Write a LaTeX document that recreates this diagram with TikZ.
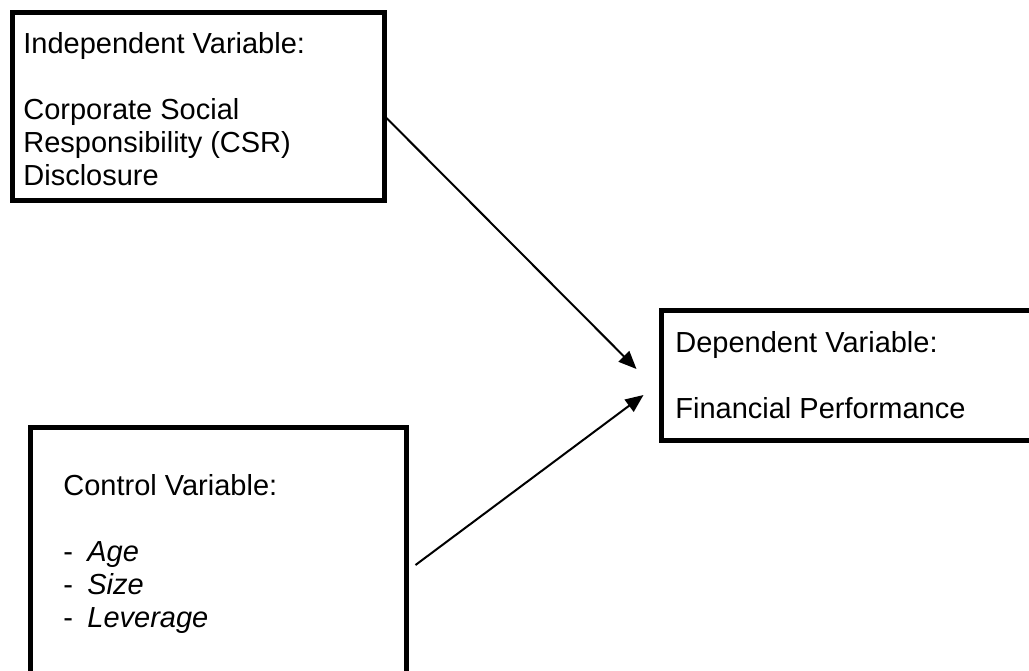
\documentclass[tikz,border=0pt]{standalone}
\usepackage{fontspec}
\setmainfont{Liberation Sans}
\usetikzlibrary{arrows.meta}

\begin{document}
\begin{tikzpicture}[x=0.5pt, y=-0.5pt,
        varbox/.style={draw, line width=2.5pt, inner sep=0pt},
        vartext/.style={anchor=base west, inner sep=0pt, align=left,
            font=\fontsize{14.5pt}{16.5pt}\selectfont},
        link/.style={line width=1pt, -{Triangle[length=9pt, width=7.5pt]}}]
    \clip (0,0) rectangle (1029,670);
    \fill[white] (0,0) rectangle (1029,670);
    % boxes
    \node[varbox, minimum width=186pt, minimum height=94pt] (indep) at (198,106) {};
    \node[varbox, minimum width=188pt, minimum height=146.5pt] (control) at (218,573.5) {};
    \node[varbox, minimum width=199.5pt, minimum height=65pt] (dep) at (860.5,375) {};
    % texts (anchored on the baseline of the last line)
    \node[vartext] (indeptext) at (23,185) {Independent Variable:\\[16.5pt]
        Corporate Social\\Responsibility (CSR)\\Disclosure};
    \node[vartext] (controltext) at (63,627) {Control Variable:\\[16.5pt]
        \makebox[12pt][l]{-}\textit{Age}\\
        \makebox[12pt][l]{-}\textit{Size}\\
        \makebox[12pt][l]{-}\textit{Leverage}};
    \node[vartext] (deptext) at (675,418) {Dependent Variable:\\[16.5pt]
        Financial Performance};
    % arrows
    \draw[link] ([yshift=-6pt]indep.east) -- ([xshift=-11pt, yshift=3pt]dep.west);
    \draw[link] ([xshift=3.5pt, yshift=4.25pt]control.east) -- ([xshift=-7.5pt, yshift=-10pt]dep.west);
\end{tikzpicture}
\end{document}
